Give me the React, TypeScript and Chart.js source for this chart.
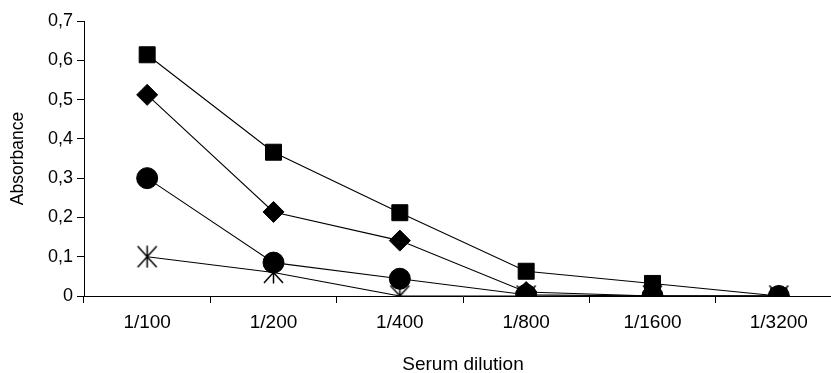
import React, { useEffect, useRef } from 'react';
import { Chart, registerables } from 'chart.js';

Chart.register(...registerables);

const categories = ['1/100', '1/200', '1/400', '1/800', '1/1600', '1/3200'];
const squareSeries = [0.614, 0.366, 0.212, 0.063, 0.032, 0];
const diamondSeries = [0.512, 0.214, 0.141, 0.01, 0, 0];
const circleSeries = [0.3, 0.085, 0.044, 0.003, 0, 0];
const starSeries = [0.1, 0.06, 0, 0, 0, 0];
const yTickLabels = ['0', '0,1', '0,2', '0,3', '0,4', '0,5', '0,6', '0,7'];
const xTitle = 'Serum dilution';
const yTitle = 'Absorbance';

function makeStar(): HTMLCanvasElement {
  const c = document.createElement('canvas');
  c.width = 23;
  c.height = 23;
  const ctx = c.getContext('2d')!;
  ctx.strokeStyle = '#000';
  ctx.lineWidth = 1.5;
  ctx.beginPath();
  ctx.moveTo(2, 1);
  ctx.lineTo(21, 22);
  ctx.moveTo(21, 1);
  ctx.lineTo(2, 22);
  ctx.moveTo(11.5, 0.5);
  ctx.lineTo(11.5, 22.5);
  ctx.stroke();
  return c;
}

export default function App() {
  const ref = useRef<HTMLCanvasElement | null>(null);

  useEffect(() => {
    if (!ref.current) return;
    document.body.style.margin = '0';
    Chart.defaults.color = '#000';
    Chart.defaults.font.family = '"Liberation Sans", Arial, sans-serif';
    const star = makeStar();
    const common = {
      borderColor: '#000',
      backgroundColor: '#000',
      borderWidth: 1.1,
      pointBorderWidth: 1,
      pointBorderColor: '#000',
      pointBackgroundColor: '#000',
    };
    const chart = new Chart(ref.current, {
      type: 'line',
      data: {
        labels: categories,
        datasets: [
          { ...common, label: 'circle', data: circleSeries, pointStyle: 'circle', pointRadius: 10.5 },
          { ...common, label: 'diamond', data: diamondSeries, pointStyle: 'rectRot', pointRadius: 10.5 },
          { ...common, label: 'square', data: squareSeries, pointStyle: 'rect', pointRadius: 11.3 },
          { ...common, label: 'star', data: starSeries, pointStyle: star as any, pointRadius: 12 },
        ],
      },
      options: {
        animation: false,
        responsive: false,
        devicePixelRatio: 1,
        events: [],
        layout: { padding: { left: 0, top: 21, right: 18, bottom: 0 } },
        plugins: { legend: { display: false }, tooltip: { enabled: false } },
        elements: { line: { tension: 0 } },
        scales: {
          x: {
            type: 'category',
            offset: true,
            grid: { offset: true, drawOnChartArea: false, drawTicks: true, tickLength: 7, color: '#000', lineWidth: 1 },
            border: { display: true, color: '#000', width: 1 },
            ticks: { font: { size: 19 }, padding: 8, maxRotation: 0, autoSkip: false },
            title: { display: true, text: xTitle, font: { size: 19 }, padding: { top: 0, bottom: 4 } },
            afterFit: (s: any) => { s.height = 84; },
          },
          y: {
            type: 'linear',
            min: 0,
            max: 0.7,
            ticks: {
              stepSize: 0.1,
              font: { size: 18 },
              padding: 4,
              callback: (_v: any, i: number) => yTickLabels[i],
            },
            grid: { drawOnChartArea: false, drawTicks: true, tickLength: 7, color: '#000', lineWidth: 1 },
            border: { display: true, color: '#000', width: 1 },
            title: { display: true, text: yTitle, font: { size: 17.5 }, padding: { top: 8, bottom: 0 } },
            afterFit: (s: any) => { s.width = 84; },
          },
        },
      },
    });
    return () => chart.destroy();
  }, []);

  return (
    <div style={{ position: 'absolute', left: 0, top: 0, width: 831, height: 373, overflow: 'hidden', background: '#fff' }}>
      <canvas ref={ref} width={860} height={380} style={{ width: 860, height: 380, display: 'block' }} />
    </div>
  );
}
